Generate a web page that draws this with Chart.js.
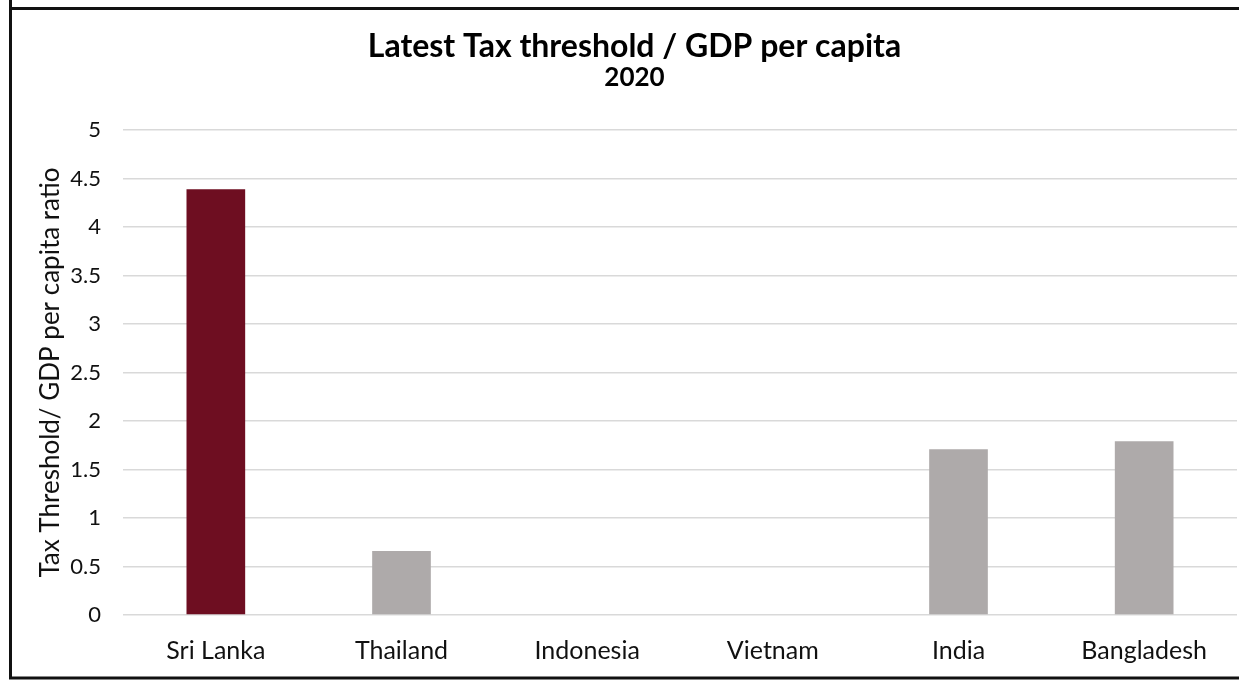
<!DOCTYPE html>
<html>
<head>
<meta charset="utf-8">
<title>Latest Tax threshold / GDP per capita</title>
<script src="https://cdn.jsdelivr.net/npm/chart.js@4.4.1/dist/chart.umd.min.js"></script>
<style>
  html, body { margin: 0; padding: 0; background: #fff; overflow: hidden; }
  #wrap { position: relative; width: 1239px; height: 681px; }
  canvas { display: block; }
</style>
</head>
<body>
<div id="wrap"><canvas id="chart" width="1239" height="681"></canvas></div>
<script>
// Categories and values
const countries = ['Sri Lanka', 'Thailand', 'Indonesia', 'Vietnam', 'India', 'Bangladesh'];
const thresholdRatio = [4.39, 0.66, 0, 0, 1.71, 1.79];
const yTickValues = [0, 0.5, 1, 1.5, 2, 2.5, 3, 3.5, 4, 4.5, 5];

const chartTitle = 'Latest Tax threshold / GDP per capita';
const chartSubtitle = '2020';
const yAxisTitle = 'Tax Threshold/ GDP per capita ratio';

// Sri Lanka highlighted, others neutral grey
const highlightColor = '#6E0E21';
const neutralColor = '#AEAAAA';
const barColors = countries.map(c => c === 'Sri Lanka' ? highlightColor : neutralColor);

const FONT = 'Lato, "Open Sans", "Noto Sans", sans-serif';

// Outer frame lines around the chart
const framePlugin = {
  id: 'frame',
  beforeDraw(chart) {
    const ctx = chart.ctx;
    ctx.save();
    ctx.fillStyle = '#ffffff';
    ctx.fillRect(0, 0, chart.width, chart.height);
    ctx.restore();
  },
  afterDraw(chart) {
    const ctx = chart.ctx;
    ctx.save();
    ctx.strokeStyle = '#111';
    ctx.lineWidth = 3;
    ctx.beginPath();
    ctx.moveTo(10.5, 0);
    ctx.lineTo(10.5, 679);
    ctx.moveTo(9, 8.5);
    ctx.lineTo(chart.width, 8.5);
    ctx.moveTo(9, 678);
    ctx.lineTo(chart.width, 678);
    ctx.stroke();
    ctx.restore();
  }
};

new Chart(document.getElementById('chart'), {
  type: 'bar',
  data: {
    labels: countries,
    datasets: [{
      data: thresholdRatio,
      backgroundColor: barColors,
      borderWidth: 0,
      categoryPercentage: 1.0,
      barPercentage: 0.316
    }]
  },
  options: {
    responsive: false,
    animation: false,
    layout: { padding: { left: 32, right: 2, top: 31, bottom: 0 } },
    plugins: {
      legend: { display: false },
      tooltip: { enabled: false },
      title: {
        display: true,
        text: chartTitle,
        color: '#000',
        font: { family: FONT, size: 32, weight: 'bold', lineHeight: 1.0 },
        padding: { top: 0, bottom: 0 }
      },
      subtitle: {
        display: true,
        text: chartSubtitle,
        color: '#000',
        font: { family: FONT, size: 26, weight: 'bold', lineHeight: 1.0 },
        padding: { top: 2, bottom: 39 }
      }
    },
    scales: {
      x: {
        grid: { display: false, drawTicks: false },
        border: { display: false },
        ticks: {
          color: '#111',
          font: { family: FONT, size: 25 },
          padding: 21,
          maxRotation: 0
        },
        afterFit(scale) { scale.height = 66; }
      },
      y: {
        min: 0,
        max: 5,
        afterBuildTicks(scale) {
          scale.ticks = yTickValues.map(v => ({ value: v }));
        },
        grid: { color: '#D9D9D9', lineWidth: 1.5, drawTicks: false },
        border: { display: false },
        ticks: {
          color: '#111',
          font: { family: FONT, size: 22 },
          padding: 22,
          callback: v => String(v)
        },
        title: {
          display: true,
          text: yAxisTitle,
          color: '#111',
          font: { family: FONT, size: 26 },
          padding: { top: 3, bottom: 0 }
        },
        afterFit(scale) { scale.width = 91; }
      }
    }
  },
  plugins: [framePlugin]
});
</script>
</body>
</html>
